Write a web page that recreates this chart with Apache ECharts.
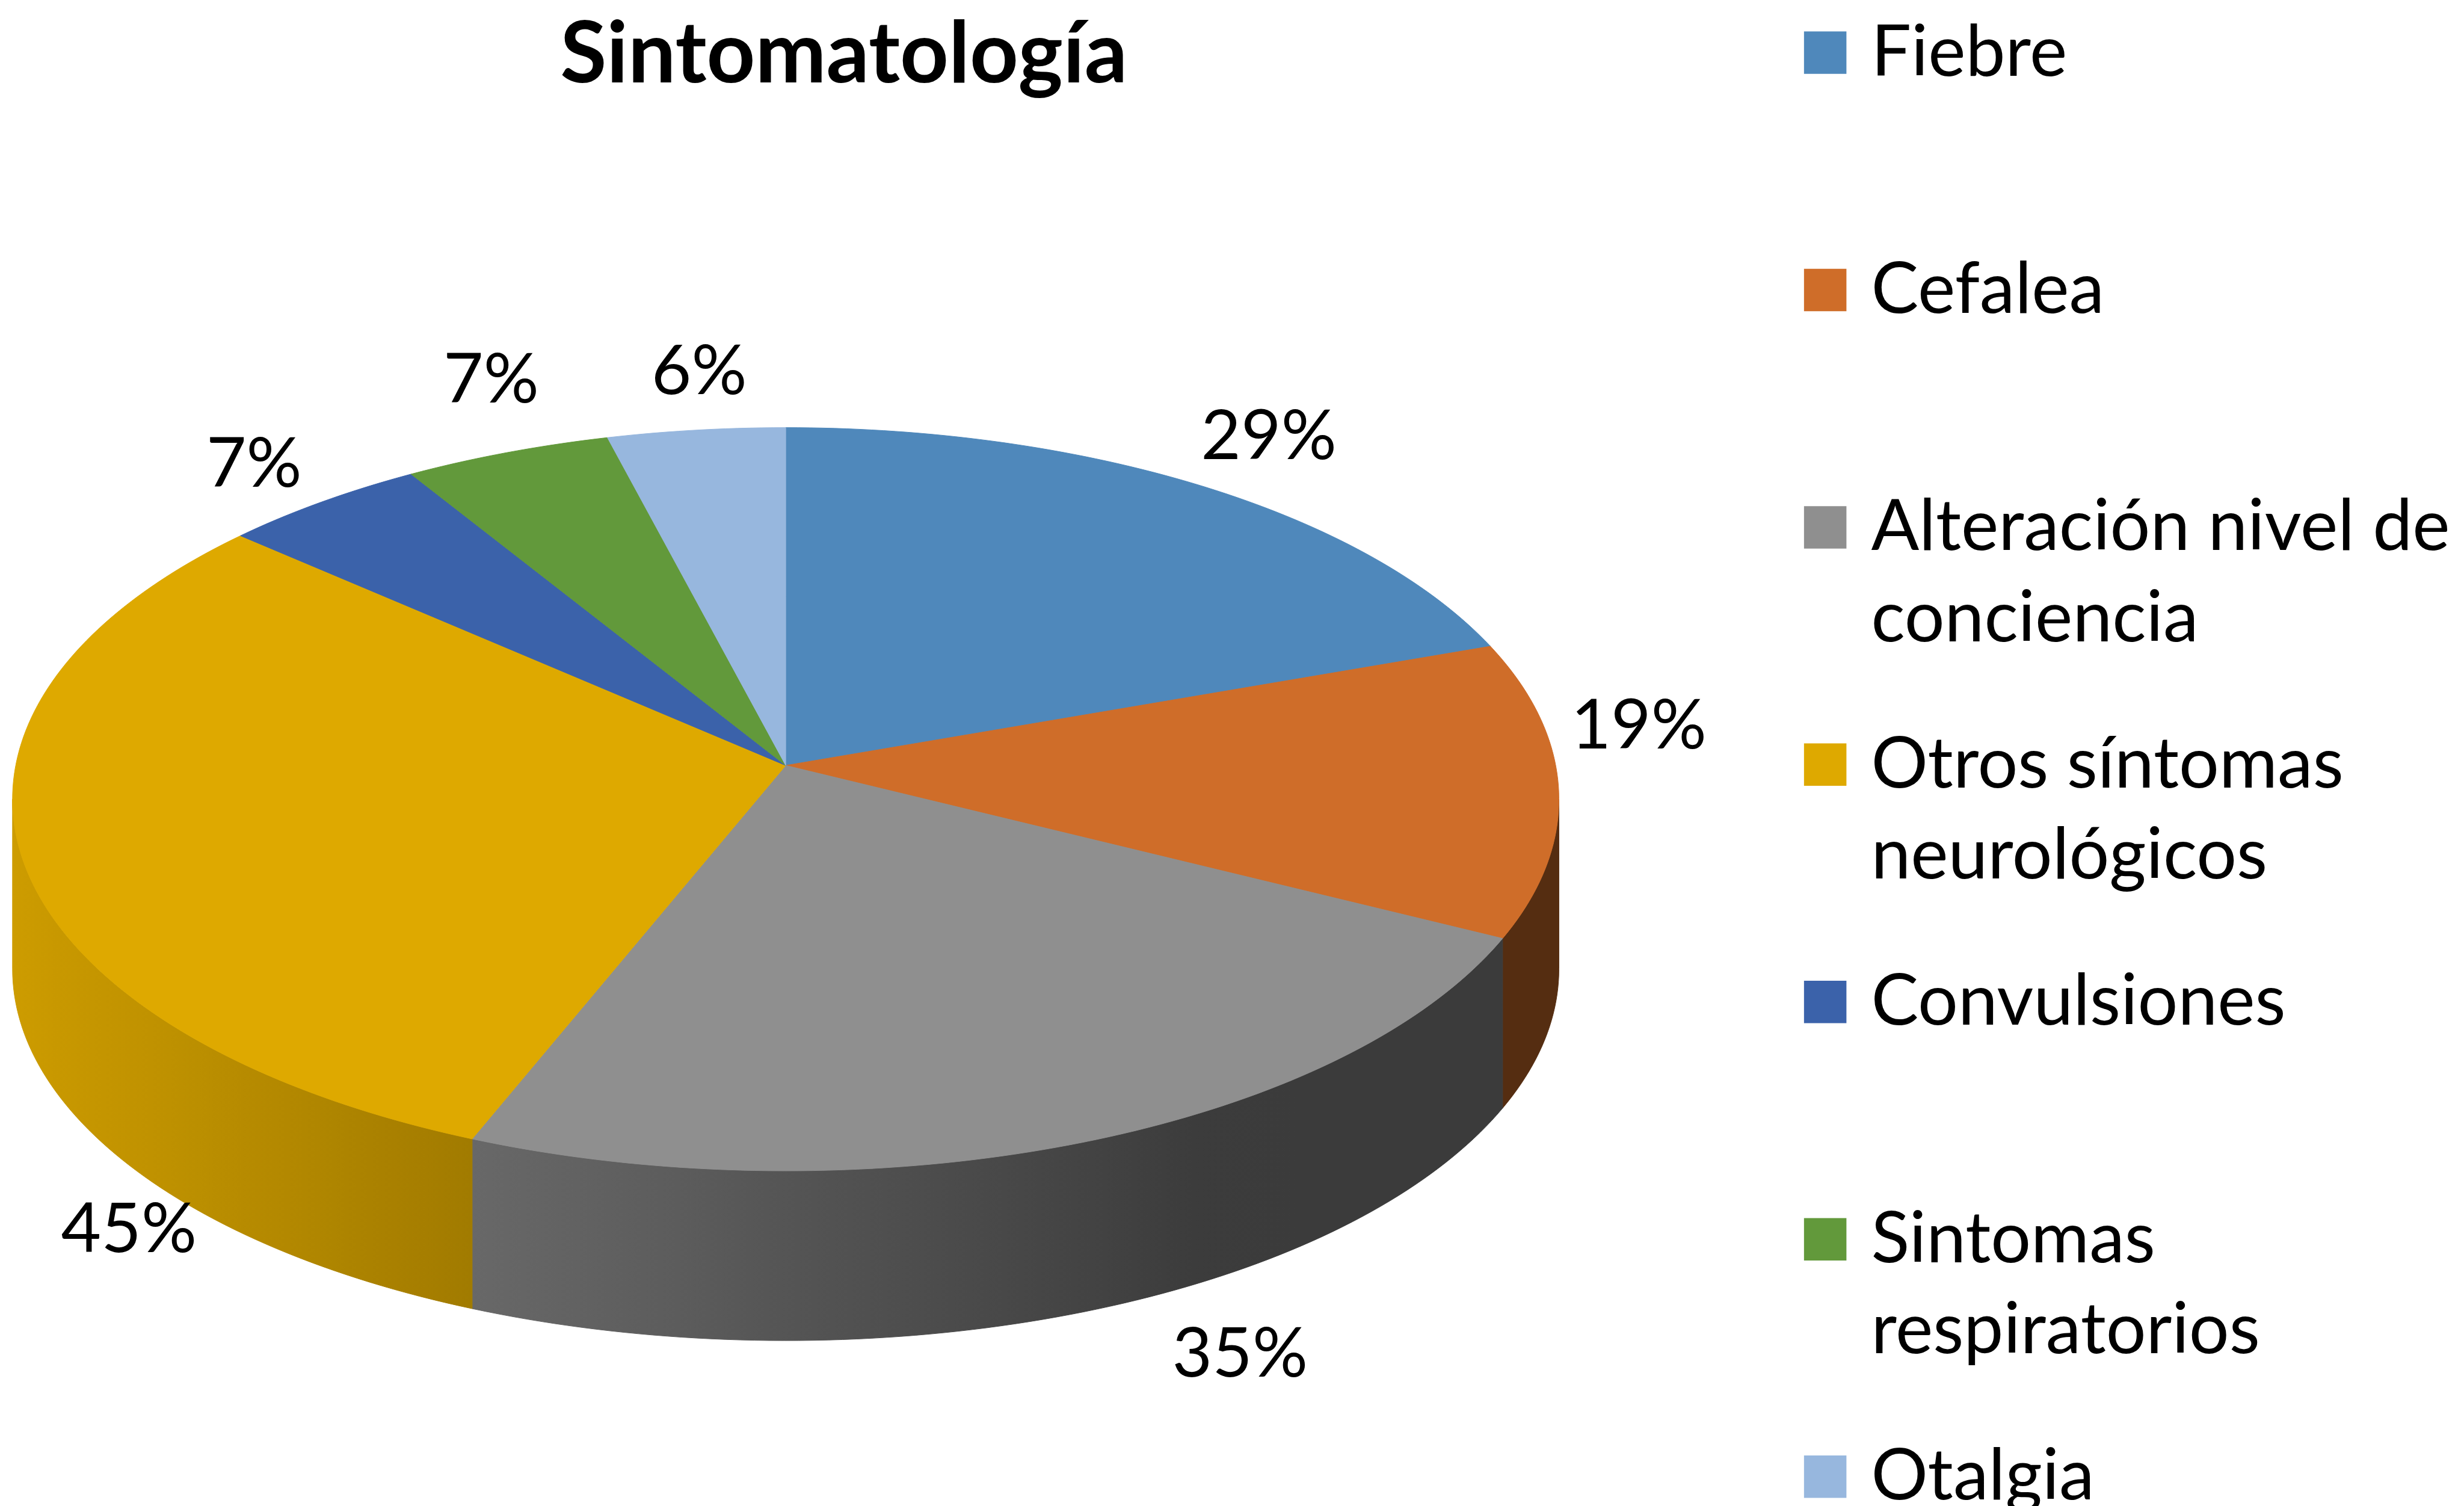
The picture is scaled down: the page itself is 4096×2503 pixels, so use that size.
<!DOCTYPE html>
<html>
<head>
<meta charset="utf-8">
<script src="https://cdn.jsdelivr.net/npm/echarts@6/dist/echarts.min.js"></script>
<style>
html, body { margin: 0; padding: 0; background: #fff; }
#chart { width: 4096px; height: 2503px; }
</style>
</head>
<body>
<div id="chart"></div>
<script>
var categories = ['Fiebre', 'Cefalea', 'Alteración nivel de conciencia', 'Otros síntomas neurológicos',
                  'Convulsiones', 'Sintomas respiratorios', 'Otalgia'];
var percents = [29, 19, 35, 45, 7, 7, 6];
var colors = ['#4f88bb', '#cf6d29', '#8f8f8f', '#dea900', '#3b62aa', '#62993b', '#97b7de'];

// layout is measured on the 1568 px wide preview, then scaled to the page
var K = 4096 / 1568;
var CX = 500 * K, CY = 487 * K;
var SX = 490 * K, SY = 234.5 * K;
var PERSP = 0.0909;              // perspective of the tilted disc
var DEPTH = 108 * K;
var FONT = 'Lato';
// where each percentage sits, relative to the rim point at mid angle (preview px)
var labelNudge = [[44, -31], [51, -40], [100, 135], [69, 240], [-43, -24], [-10, -46], [2, -37]];

var total = percents.reduce(function (s, v) { return s + v; }, 0);
var starts = [], ends = [];
var acc = 0;
percents.forEach(function (v) {
    starts.push(acc / total * Math.PI * 2);
    acc += v;
    ends.push(acc / total * Math.PI * 2);
});
var FRONT0 = Math.acos(-PERSP), FRONT1 = Math.PI * 2 - FRONT0;

function proj(t) {
    var X = Math.sin(t), Z = Math.cos(t), d = 1 + PERSP * Z;
    return [CX + SX * X / d, CY - SY * Z / d];
}
function arc(a, b) {
    var n = Math.max(2, Math.ceil((b - a) / (Math.PI / 180)));
    var pts = [];
    for (var j = 0; j <= n; j++) pts.push(proj(a + (b - a) * j / n));
    return pts;
}
function shade(hex, f) {
    var n = parseInt(hex.slice(1), 16);
    var r = (n >> 16) & 255, g = (n >> 8) & 255, b = n & 255;
    return 'rgb(' + Math.round(r * f) + ',' + Math.round(g * f) + ',' + Math.round(b * f) + ')';
}
function lightAt(x) {
    var u = (x - (CX - SX)) / (2 * SX);
    return Math.max(0.41, 0.92 - 0.65 * u);
}

function renderSlice(params, api) {
    var i = params.seriesIndex;
    var a = starts[i], b = ends[i];
    var kids = [];

    // side wall, only on the front half
    var s0 = Math.max(a, FRONT0), s1 = Math.min(b, FRONT1);
    if (s1 > s0) {
        var top = arc(s0, s1);
        var pts = top.slice();
        for (var j = top.length - 1; j >= 0; j--) pts.push([top[j][0], top[j][1] + DEPTH]);
        var xs = top.map(function (p) { return p[0]; });
        var xmin = Math.min.apply(null, xs), xmax = Math.max.apply(null, xs);
        var stops = [];
        for (var q = 0; q <= 10; q++) {
            var x = xmin + (xmax - xmin) * q / 10;
            stops.push({ offset: q / 10, color: shade(colors[i], lightAt(x)) });
        }
        var grad = { type: 'linear', x: 0, y: 0, x2: 1, y2: 0, colorStops: stops };
        kids.push({ type: 'polygon', shape: { points: pts }, style: { fill: grad, stroke: grad, lineWidth: 1 } });
    }

    // top face
    var face = [[CX, CY]].concat(arc(a, b));
    kids.push({ type: 'polygon', shape: { points: face },
                style: { fill: colors[i], stroke: colors[i], lineWidth: 1 } });

    // percentage label
    var m = proj((a + b) / 2);
    kids.push({
        type: 'text',
        x: m[0] + labelNudge[i][0] * K,
        y: m[1] + labelNudge[i][1] * K,
        style: { text: api.value(0) + '%', fontFamily: FONT, fontSize: 115, fill: '#000',
                 align: 'center', verticalAlign: 'middle' }
    });
    return { type: 'group', children: kids };
}

function wrap(name) {
    var words = name.split(' '), lines = [], cur = '';
    words.forEach(function (w) {
        if (cur && (cur + ' ' + w).length > 19) { lines.push(cur); cur = w; }
        else cur = cur ? cur + ' ' + w : w;
    });
    lines.push(cur);
    return lines;
}

var LINE = 58 * K;
var legends = categories.map(function (name, i) {
    var nLines = wrap(name).length;
    var center = (33.5 + 151 * i) * K;
    return {
        data: [name],
        orient: 'vertical',
        left: 1148 * K,
        top: center - (2 * nLines - 1) * LINE / 2,
        padding: 0,
        itemGap: 0,
        itemWidth: 27 * K,
        itemHeight: 27 * K,
        icon: 'rect',
        selectedMode: false,
        // blank lines above keep the first text line level with the square
        formatter: function (n) {
            var ls = wrap(n);
            var pad = [];
            for (var p = 1; p < ls.length; p++) pad.push('');
            return pad.concat(ls).join('\n');
        },
        textStyle: {
            fontFamily: FONT, fontSize: 118, color: '#000', lineHeight: LINE,
            padding: [0, 0, 0, 36]
        }
    };
});

var series = categories.map(function (name, i) {
    return {
        type: 'custom',
        name: name,
        coordinateSystem: 'none',
        itemStyle: { color: colors[i] },
        renderItem: renderSlice,
        data: [[percents[i]]]
    };
});

var myChart = echarts.init(document.getElementById('chart'), null, { renderer: 'canvas' });
myChart.setOption({
    animation: false,
    backgroundColor: '#fff',
    title: {
        text: 'Sintomatología',
        left: 537 * K,
        textAlign: 'center',
        top: 8 * K,
        padding: 0,
        textStyle: { fontFamily: FONT, fontWeight: 'bold', fontSize: 141, color: '#000' }
    },
    legend: legends,
    series: series
});
</script>
</body>
</html>
